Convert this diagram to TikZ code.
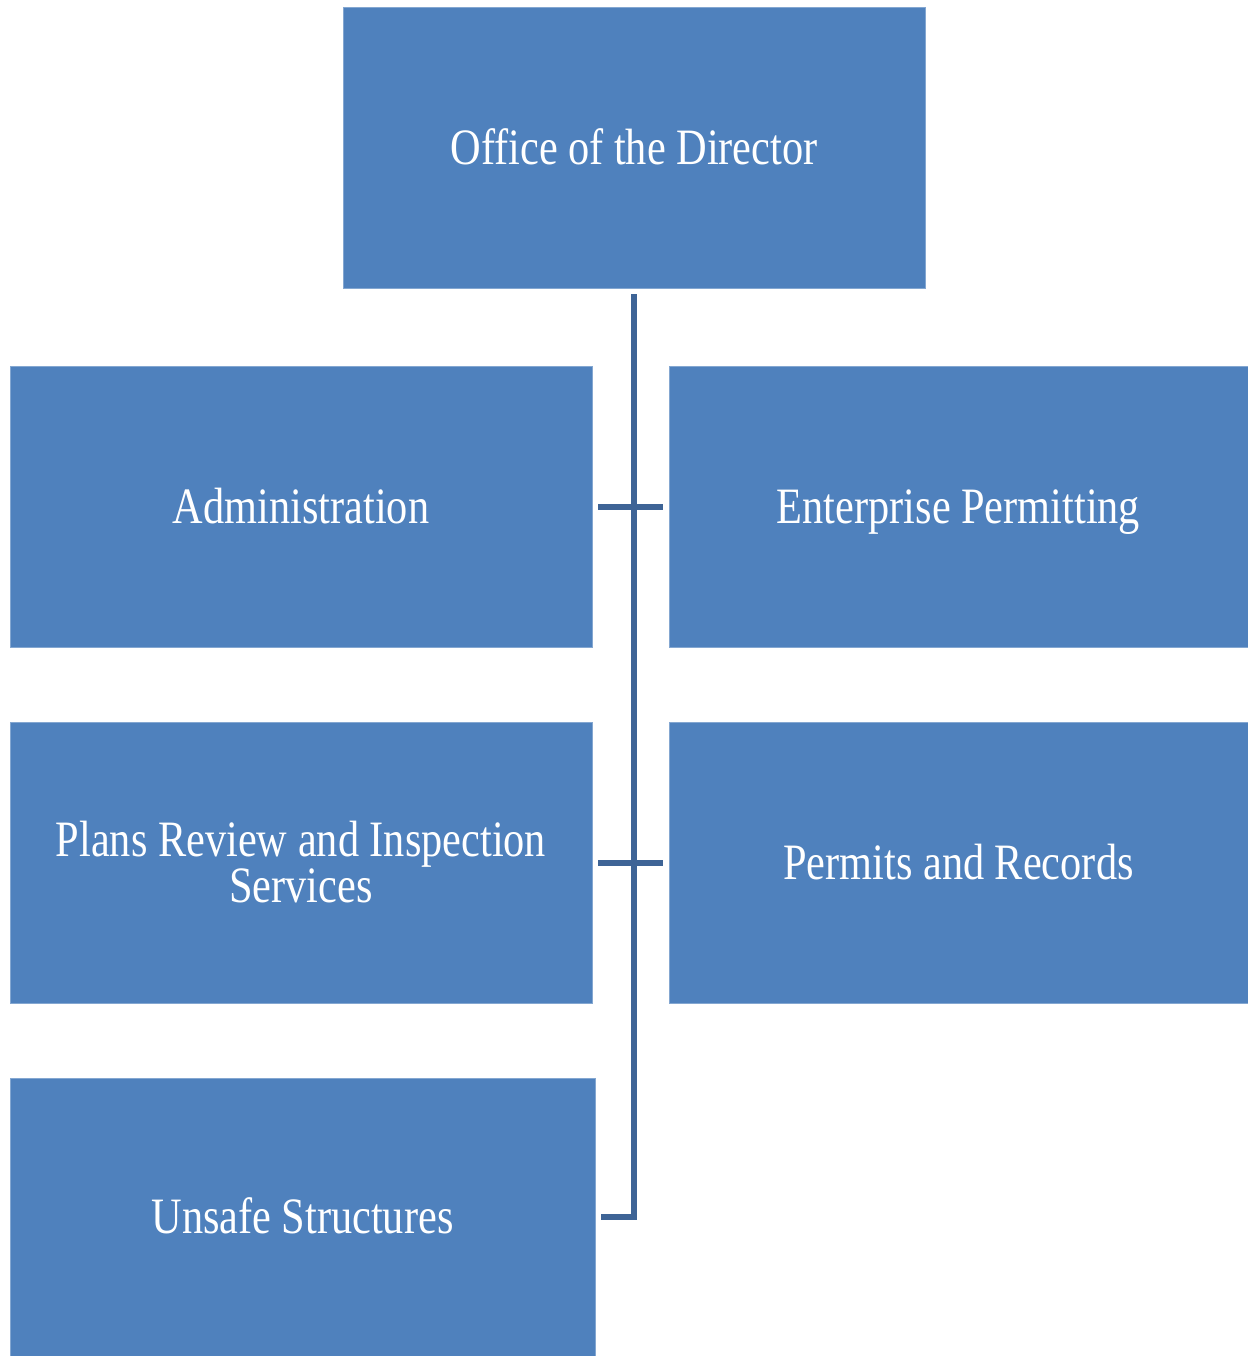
\documentclass[tikz,border=0pt]{standalone}
\usepackage{fontspec}
\setmainfont{Liberation Serif}[FakeStretch=0.83]
\definecolor{boxblue}{HTML}{4F81BD}
\definecolor{lineblue}{HTML}{3E6496}
\begin{document}
\begin{tikzpicture}[x=0.5pt,y=-0.5pt,
  unit/.style={draw=boxblue!70!white,line width=0.4pt,fill=boxblue,text=white,
    font=\fontsize{25.5}{23}\selectfont,align=center,inner sep=0pt},
  oneline/.style={text height=19pt,text depth=2.5pt},
  conn/.style={draw=lineblue,line width=3pt}]
\useasboundingbox (0,0) rectangle (1248,1356);
\node[unit,oneline,minimum width=291pt,minimum height=140.5pt] (dir) at (634,147.5) {Office of the Director};
\node[unit,oneline,minimum width=291pt,minimum height=140.5pt] (adm) at (301,506.5) {Administration};
\node[unit,oneline,minimum width=289.5pt,minimum height=140.5pt] (ent) at (958.5,506.5) {Enterprise Permitting};
\node[unit,minimum width=291pt,minimum height=140.5pt] (pri) at (301,862.5) {Plans Review and Inspection\\Services};
\node[unit,oneline,minimum width=289.5pt,minimum height=140.5pt] (per) at (958.5,862.5) {Permits and Records};
\node[unit,oneline,minimum width=292.5pt,minimum height=139pt] (uns) at (302.5,1217) {Unsafe Structures};
\draw[conn] ([yshift=-3pt]dir.south) -- (dir.south |- uns.east) -- ([xshift=3pt]uns.east);
\draw[conn] ([xshift=3pt]adm.east) -- ([xshift=-3pt]ent.west);
\draw[conn] ([xshift=3pt]pri.east) -- ([xshift=-3pt]per.west);
\end{tikzpicture}
\end{document}
